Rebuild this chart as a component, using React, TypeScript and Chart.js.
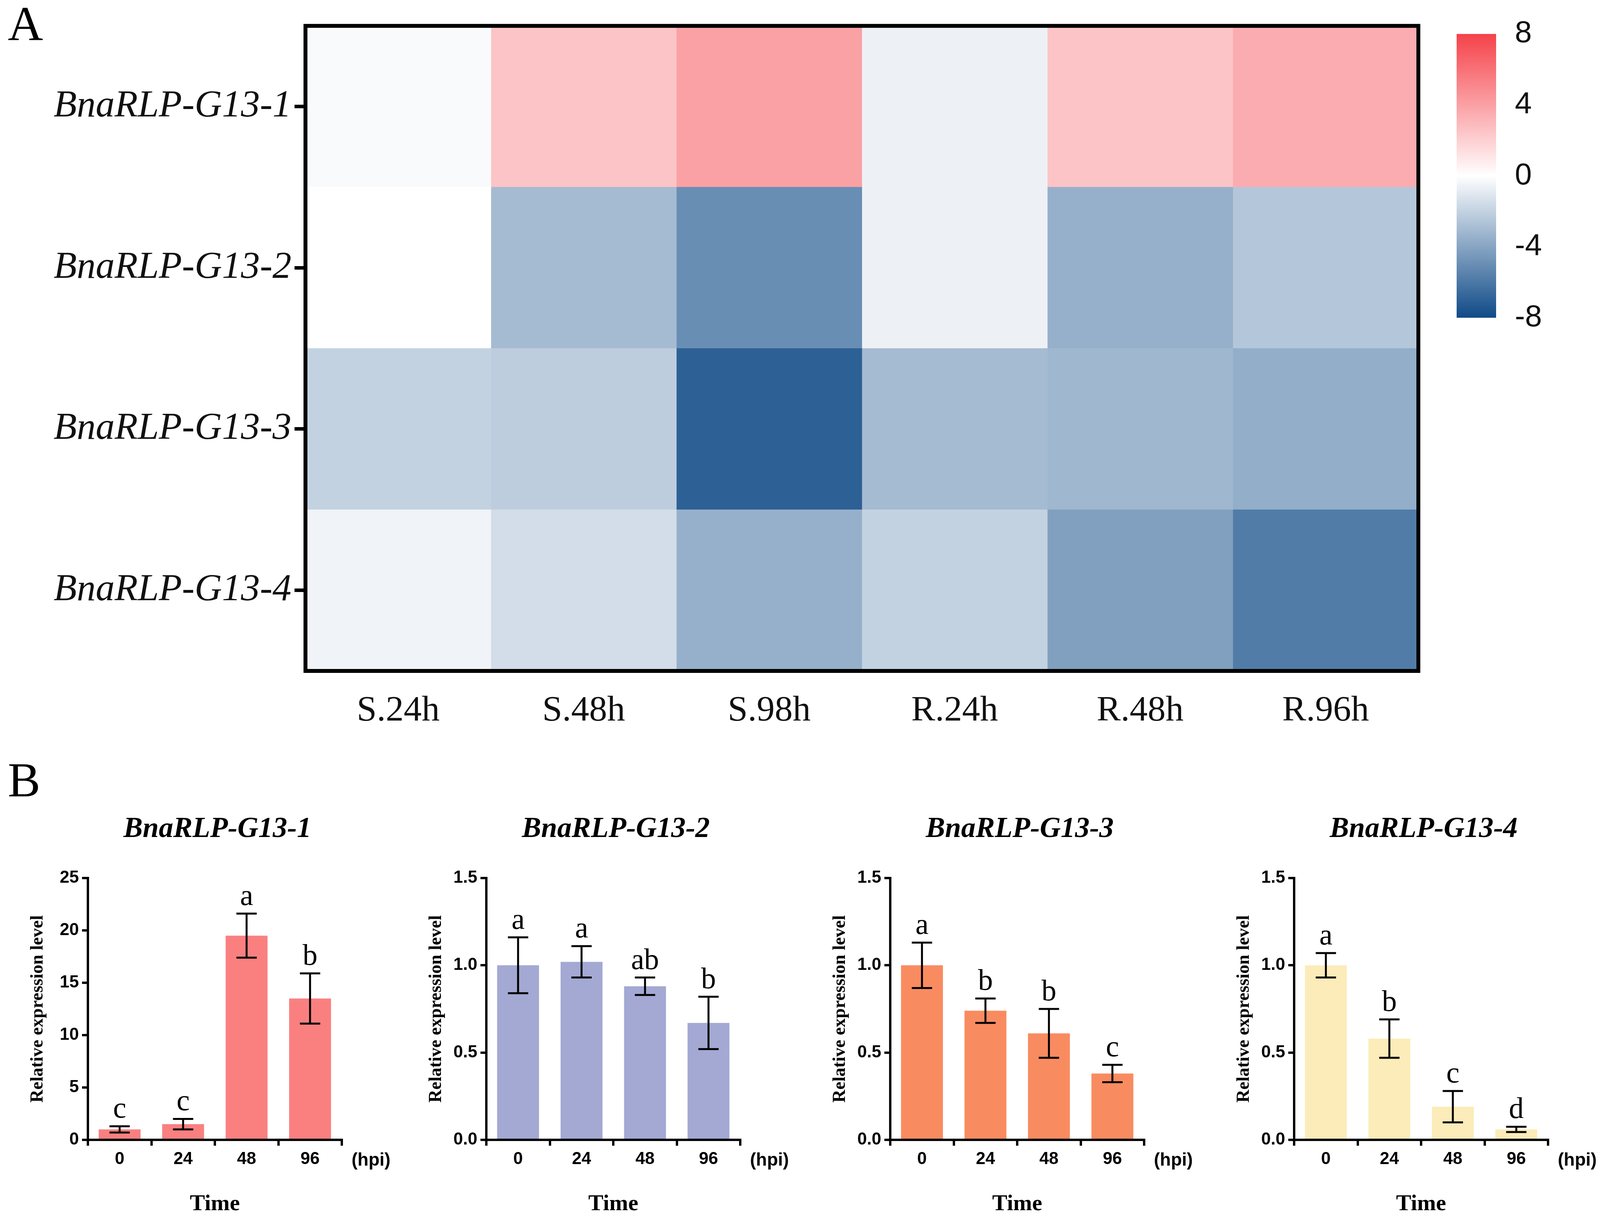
import React, { useEffect, useRef } from "react";
import { Chart, registerables } from "chart.js";
Chart.register(...registerables);

const genes = ["BnaRLP-G13-1", "BnaRLP-G13-2", "BnaRLP-G13-3", "BnaRLP-G13-4"];
const times = ["S.24h", "S.48h", "S.98h", "R.24h", "R.48h", "R.96h"];
// heat[geneIndex][timeIndex]
const heatG1 = [-0.2, 2.5, 4.0, -0.6, 2.5, 3.5];
const heatG2 = [0.0, -3.0, -5.0, -0.6, -3.5, -2.5];
const heatG3 = [-2.0, -2.2, -7.0, -3.0, -3.2, -3.6];
const heatG4 = [-0.5, -1.5, -3.5, -2.0, -4.2, -5.8];
const heat = [heatG1, heatG2, heatG3, heatG4];
const scaleTicks = [-8, -4, 0, 4, 8];

const hpi = ["0", "24", "48", "96"];
const p1Vals = [1.0, 1.5, 19.5, 13.5];
const p1Err = [0.3, 0.5, 2.1, 2.4];
const p1Let = ["c", "c", "a", "b"];
const p2Vals = [1.0, 1.02, 0.88, 0.67];
const p2Err = [0.16, 0.09, 0.05, 0.15];
const p2Let = ["a", "a", "ab", "b"];
const p3Vals = [1.0, 0.74, 0.61, 0.38];
const p3Err = [0.13, 0.07, 0.14, 0.05];
const p3Let = ["a", "b", "b", "c"];
const p4Vals = [1.0, 0.58, 0.19, 0.06];
const p4Err = [0.07, 0.11, 0.09, 0.015];
const p4Let = ["a", "b", "c", "d"];

const RED = [245, 66, 74];
const BLUE = [15, 74, 135];
function colorFor(v: number) {
  const t = Math.min(1, Math.abs(v) / 8);
  const c = v >= 0 ? RED : BLUE;
  const m = (i: number) => Math.round(255 + (c[i] - 255) * t);
  return `rgb(${m(0)},${m(1)},${m(2)})`;
}

function useChart(cfg: () => any) {
  const ref = useRef<HTMLCanvasElement>(null);
  useEffect(() => {
    const ch = new Chart(ref.current!, cfg());
    return () => ch.destroy();
  }, []);
  return ref;
}

function Heatmap() {
  const ref = useChart(() => ({
    type: "bar",
    data: {
      labels: genes,
      datasets: times.map((t, ti) => ({
        label: t,
        data: genes.map(() => 1),
        backgroundColor: genes.map((_, gi) => colorFor(heat[gi][ti])),
        borderWidth: 0,
        barPercentage: 1,
        categoryPercentage: 1,
      })),
    },
    options: {
      indexAxis: "y",
      animation: false,
      responsive: false,
      devicePixelRatio: 1,
      layout: { padding: { top: 66, right: 69, left: 0, bottom: 0 } },
      plugins: { legend: { display: false }, tooltip: { enabled: false } },
      scales: {
        x: {
          type: "linear",
          stacked: true,
          min: 0,
          max: 6,
          afterBuildTicks: (s: any) => { s.ticks = times.map((_, i) => ({ value: i + 0.5 })); },
          afterFit: (s: any) => { s.height = 183; },
          grid: { display: false },
          border: { display: false },
          ticks: { callback: (v: any) => times[Math.floor(v)], color: "#111", padding: 40, font: { family: "Liberation Serif", size: 92 } },
        },
        y: {
          stacked: true,
          afterFit: (s: any) => { s.width = 782; },
          grid: { drawOnChartArea: false, drawTicks: true, offset: false, tickLength: 28, lineWidth: 9, color: "#000" },
          border: { display: false },
          ticks: { color: "#111", padding: 8, font: { family: "Liberation Serif", size: 97, style: "italic" } },
        },
      },
    },
    plugins: [{
      id: "frame",
      afterDraw(c: any) {
        const a = c.chartArea; const ctx = c.ctx;
        ctx.save(); ctx.strokeStyle = "#000"; ctx.lineWidth = 10;
        ctx.strokeRect(a.left, a.top, a.right - a.left, a.bottom - a.top); ctx.restore();
      },
    }],
  }));
  return <canvas ref={ref} width={3700} height={1900} style={{ position: "absolute", left: 0, top: 0 }} />;
}

function ColorBar() {
  const ref = useChart(() => ({
    type: "bar",
    data: {
      labels: [""],
      datasets: [{
        data: [[-8, 8]],
        barPercentage: 1, categoryPercentage: 1, borderWidth: 0,
        backgroundColor: (ctx: any) => {
          const a = ctx.chart.chartArea; if (!a) return "#fff";
          const g = ctx.chart.ctx.createLinearGradient(0, a.top, 0, a.bottom);
          g.addColorStop(0, colorFor(8)); g.addColorStop(0.5, "#fff"); g.addColorStop(1, colorFor(-8));
          return g;
        },
      }],
    },
    options: {
      animation: false, responsive: false, devicePixelRatio: 1,
      layout: { padding: { top: 66, left: 29, right: 0, bottom: 0 } },
      plugins: { legend: { display: false }, tooltip: { enabled: false } },
      scales: {
        x: { display: false },
        y: {
          position: "right", min: -8, max: 8,
          afterBuildTicks: (s: any) => { s.ticks = scaleTicks.map((v) => ({ value: v })); },
          afterFit: (s: any) => { s.width = 327; },
          grid: { display: false }, border: { display: false },
          ticks: { color: "#111", padding: 40, font: { family: "Liberation Sans", size: 78 } },
        },
      },
    },
  }));
  return <canvas ref={ref} width={457} height={900} style={{ position: "absolute", left: 3700, top: 0 }} />;
}

function BarPanel(props: { left: number; vals: number[]; errs: number[]; lets: string[]; color: string; max: number; step: number; dec: number; title: string }) {
  const { left, vals, errs, lets, color, max, step, dec, title } = props;
  const ref = useChart(() => ({
    type: "bar",
    data: { labels: hpi, datasets: [{ data: vals, backgroundColor: color, barPercentage: 0.66, categoryPercentage: 1 }] },
    options: {
      animation: false, responsive: false, devicePixelRatio: 1,
      layout: { padding: { top: 197, right: 205, left: 70, bottom: 0 } },
      plugins: { legend: { display: false }, tooltip: { enabled: false } },
      scales: {
        x: {
          afterFit: (s: any) => { s.height = 200; },
          grid: { drawOnChartArea: false, drawTicks: true, tickLength: 15, lineWidth: 6, color: "#000", offset: true },
          border: { color: "#000", width: 6 },
          ticks: { color: "#000", padding: 8, font: { family: "Liberation Sans", size: 44, weight: "bold" } },
          title: { display: true, text: "Time", color: "#000", padding: 0, font: { family: "Liberation Serif", size: 58, weight: "bold" } },
        },
        y: {
          min: 0, max,
          afterBuildTicks: (s: any) => { const t = []; for (let v = 0; v <= max + 1e-9; v += step) t.push({ value: v }); s.ticks = t; },
          afterFit: (s: any) => { s.width = 155; },
          grid: { drawOnChartArea: false, drawTicks: true, tickLength: 15, lineWidth: 6, color: "#000" },
          border: { color: "#000", width: 6 },
          ticks: { color: "#000", padding: 8, callback: (v: any) => Number(v).toFixed(dec), font: { family: "Liberation Sans", size: 44, weight: "bold" } },
          title: { display: true, text: "Relative expression level", color: "#000", padding: 0, font: { family: "Liberation Serif", size: 46, weight: "bold" } },
        },
      },
    },
    plugins: [{
      id: "err",
      afterDatasetsDraw(c: any) {
        const ctx = c.ctx; const ys = c.scales.y; const meta = c.getDatasetMeta(0);
        ctx.save(); ctx.strokeStyle = "#000"; ctx.lineWidth = 5; ctx.fillStyle = "#000";
        ctx.font = "76px 'Liberation Serif'"; ctx.textAlign = "center"; ctx.textBaseline = "bottom";
        meta.data.forEach((b: any, i: number) => {
          const yt = ys.getPixelForValue(vals[i] + errs[i]);
          const yb = ys.getPixelForValue(vals[i] - errs[i]);
          ctx.beginPath();
          ctx.moveTo(b.x, yt); ctx.lineTo(b.x, yb);
          ctx.moveTo(b.x - 26, yt); ctx.lineTo(b.x + 26, yt);
          ctx.moveTo(b.x - 26, yb); ctx.lineTo(b.x + 26, yb);
          ctx.stroke();
          ctx.fillText(lets[i], b.x, yt - 4);
        });
        ctx.restore();
      },
    }],
  }));
  return (
    <>
      <canvas ref={ref} width={1080} height={1067} style={{ position: "absolute", left, top: 2050 }} />
      <div style={{ position: "absolute", left: left + 225, width: 663, top: 2075, textAlign: "center", font: "italic bold 74px 'Liberation Serif'", color: "#000" }}>{title}</div>
      <div style={{ position: "absolute", left: left + 900, top: 2940, font: "bold 46px 'Liberation Sans'", color: "#000" }}>(hpi)</div>
    </>
  );
}

export default function App() {
  return (
    <div style={{ position: "absolute", left: 0, top: 0, width: 4157, height: 3117, background: "#fff" }}>
      <Heatmap />
      <ColorBar />
      <div style={{ position: "absolute", left: 20, top: -10, font: "125px 'Liberation Serif'", color: "#000" }}>A</div>
      <div style={{ position: "absolute", left: 20, top: 1925, font: "125px 'Liberation Serif'", color: "#000" }}>B</div>
      <BarPanel left={0} vals={p1Vals} errs={p1Err} lets={p1Let} color="#fa8080" max={25} step={5} dec={0} title="BnaRLP-G13-1" />
      <BarPanel left={1020} vals={p2Vals} errs={p2Err} lets={p2Let} color="#a3a9d3" max={1.5} step={0.5} dec={1} title="BnaRLP-G13-2" />
      <BarPanel left={2054} vals={p3Vals} errs={p3Err} lets={p3Let} color="#f98b60" max={1.5} step={0.5} dec={1} title="BnaRLP-G13-3" />
      <BarPanel left={3088} vals={p4Vals} errs={p4Err} lets={p4Let} color="#fbecb9" max={1.5} step={0.5} dec={1} title="BnaRLP-G13-4" />
    </div>
  );
}
